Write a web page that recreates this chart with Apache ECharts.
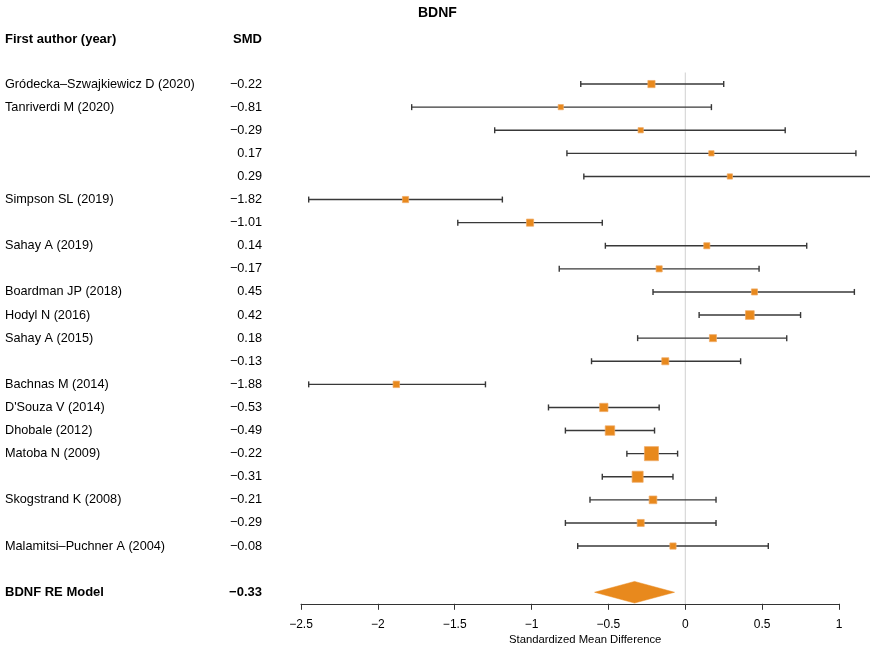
<!DOCTYPE html>
<html>
<head>
<meta charset="utf-8">
<script src="https://cdn.jsdelivr.net/npm/echarts@6/dist/echarts.min.js"></script>
<style>
html,body{margin:0;padding:0;background:#fff;}
#main{width:870px;height:647px;}
</style>
</head>
<body>
<div id="main"></div>
<script>
// ---- data ----
const authors = ["Gródecka–Szwajkiewicz D (2020)", "Tanriverdi M (2020)", "", "", "", "Simpson SL (2019)", "", "Sahay A (2019)", "", "Boardman JP (2018)", "Hodyl N (2016)", "Sahay A (2015)", "", "Bachnas M (2014)", "D'Souza V (2014)", "Dhobale (2012)", "Matoba N (2009)", "", "Skogstrand K (2008)", "", "Malamitsi–Puchner A (2004)"];
const smd   = [-0.22, -0.81, -0.29, 0.17, 0.29, -1.82, -1.01, 0.14, -0.17, 0.45, 0.42, 0.18, -0.13, -1.88, -0.53, -0.49, -0.22, -0.31, -0.21, -0.29, -0.08];
const lower = [-0.68, -1.78, -1.24, -0.77, -0.66, -2.45, -1.48, -0.52, -0.82, -0.21, 0.09, -0.31, -0.61, -2.45, -0.89, -0.78, -0.38, -0.54, -0.62, -0.78, -0.70];
const upper = [0.25, 0.17, 0.65, 1.11, 1.24, -1.19, -0.54, 0.79, 0.48, 1.10, 0.75, 0.66, 0.36, -1.30, -0.17, -0.20, -0.05, -0.08, 0.20, 0.20, 0.54];
const summaryLabel = "BDNF RE Model";
const summary = { est: -0.33, lower: -0.59, upper: -0.07 };
const xTicks = [-2.5, -2, -1.5, -1, -0.5, 0, 0.5, 1];
const titleText = "BDNF";
const xLabel = "Standardized Mean Difference";
const colHeaders = ["First author (year)", "SMD"];

// ---- helpers ----
const FONT = '"Liberation Sans", Arial, Helvetica, sans-serif';
const ORANGE = '#E8891D';
const fmt = v => (v < 0 ? '\u2212' : '') + Math.abs(v).toFixed(2);
const fmtTick = v => (v < 0 ? '\u2212' : '') + String(Math.abs(v));

const nStudies = smd.length;
const summaryRow = nStudies + 2;

const ciData = smd.map((v, i) => [lower[i], upper[i], v, i + 1]);
const labelData = authors.map((a, i) => [0, i + 1, a, fmt(smd[i]), 0]);
labelData.push([0, summaryRow, summaryLabel, fmt(summary.est), 1]);

const chart = echarts.init(document.getElementById('main'), null, { renderer: 'canvas' });

const option = {
  animation: false,
  backgroundColor: '#ffffff',
  title: {
    text: titleText,
    left: 418, top: 6, padding: 0,
    textStyle: { fontFamily: FONT, fontSize: 14, fontWeight: 'bold', color: '#000' }
  },
  grid: { left: 301, right: 31, top: 72.5, bottom: 43.2, containLabel: false },
  xAxis: {
    type: 'value', min: -2.5, max: 1, interval: 0.5,
    splitLine: { show: false },
    axisLine: { show: true, onZero: false, lineStyle: { color: '#333', width: 1 } },
    axisTick: { show: true, length: 6, inside: false, lineStyle: { color: '#333', width: 1 } },
    axisLabel: { formatter: fmtTick, margin: 15, fontFamily: FONT, fontSize: 12, color: '#000' }
  },
  yAxis: {
    type: 'value', inverse: true, min: 0.5, max: 23.5, show: false
  },
  graphic: [
    { type: 'text', left: 5, top: 33, style: { text: colHeaders[0], font: 'bold 13px ' + FONT, fill: '#000' } },
    { type: 'text', right: 870 - 262, top: 33, style: { text: colHeaders[1], font: 'bold 13px ' + FONT, fill: '#000', textAlign: 'right' } },
    { type: 'text', left: 509, top: 634, style: { text: xLabel, font: '11.3px ' + FONT, fill: '#000' } }
  ],
  series: [
    {
      // vertical reference line at 0
      type: 'custom', z: 1, clip: false, silent: true,
      data: [[0, 0.5, 23.5]],
      encode: { x: 0, y: [1, 2] },
      renderItem: (params, api) => {
        const a = api.coord([api.value(0), api.value(1)]);
        const b = api.coord([api.value(0), api.value(2)]);
        return { type: 'line', shape: { x1: a[0], y1: a[1], x2: b[0], y2: b[1] }, style: { stroke: '#d0d0d0', lineWidth: 1 } };
      }
    },
    {
      // study CIs and squares
      type: 'custom', z: 3, clip: false, silent: true,
      data: ciData,
      encode: { x: [0, 1, 2], y: 3 },
      renderItem: (params, api) => {
        const lo = api.coord([api.value(0), api.value(3)]);
        const hi = api.coord([api.value(1), api.value(3)]);
        const pt = api.coord([api.value(2), api.value(3)]);
        const s = 3.4 + 0.9 * 3.92 / (api.value(1) - api.value(0));
        const ln = { stroke: '#383838', lineWidth: 1.4 };
        return {
          type: 'group',
          children: [
            { type: 'line', shape: { x1: lo[0], y1: lo[1], x2: hi[0], y2: hi[1] }, style: ln },
            { type: 'line', shape: { x1: lo[0], y1: lo[1] - 3, x2: lo[0], y2: lo[1] + 3 }, style: ln },
            { type: 'line', shape: { x1: hi[0], y1: hi[1] - 3, x2: hi[0], y2: hi[1] + 3 }, style: ln },
            { type: 'rect', shape: { x: pt[0] - s / 2, y: pt[1] - s / 2, width: s, height: s },
              style: { fill: ORANGE, stroke: 'rgba(240,170,100,0.9)', lineWidth: 0.8 } }
          ]
        };
      }
    },
    {
      // summary diamond
      type: 'custom', z: 3, clip: false, silent: true,
      data: [[summary.lower, summary.upper, summary.est, summaryRow]],
      encode: { x: [0, 1, 2], y: 3 },
      renderItem: (params, api) => {
        const lo = api.coord([api.value(0), api.value(3)]);
        const hi = api.coord([api.value(1), api.value(3)]);
        const pt = api.coord([api.value(2), api.value(3)]);
        const h = 10.8;
        return {
          type: 'polygon',
          shape: { points: [[lo[0], lo[1]], [pt[0], pt[1] - h], [hi[0], hi[1]], [pt[0], pt[1] + h]] },
          style: { fill: ORANGE, stroke: ORANGE, lineWidth: 0.5 }
        };
      }
    },
    {
      // text columns
      type: 'custom', z: 4, clip: false, silent: true,
      data: labelData,
      encode: { x: 0, y: 1 },
      renderItem: (params, api) => {
        const d = labelData[params.dataIndex];
        const y = api.coord([0, d[1]])[1];
        const bold = d[4] === 1;
        const font = (bold ? 'bold 13px ' : '12.7px ') + FONT;
        return {
          type: 'group',
          children: [
            { type: 'text', style: { x: 5, y: y, text: d[2], font: font, fill: '#000', textAlign: 'left', textVerticalAlign: 'middle' } },
            { type: 'text', style: { x: 262, y: y, text: d[3], font: font, fill: '#000', textAlign: 'right', textVerticalAlign: 'middle' } }
          ]
        };
      }
    }
  ]
};
chart.setOption(option);
</script>
</body>
</html>
